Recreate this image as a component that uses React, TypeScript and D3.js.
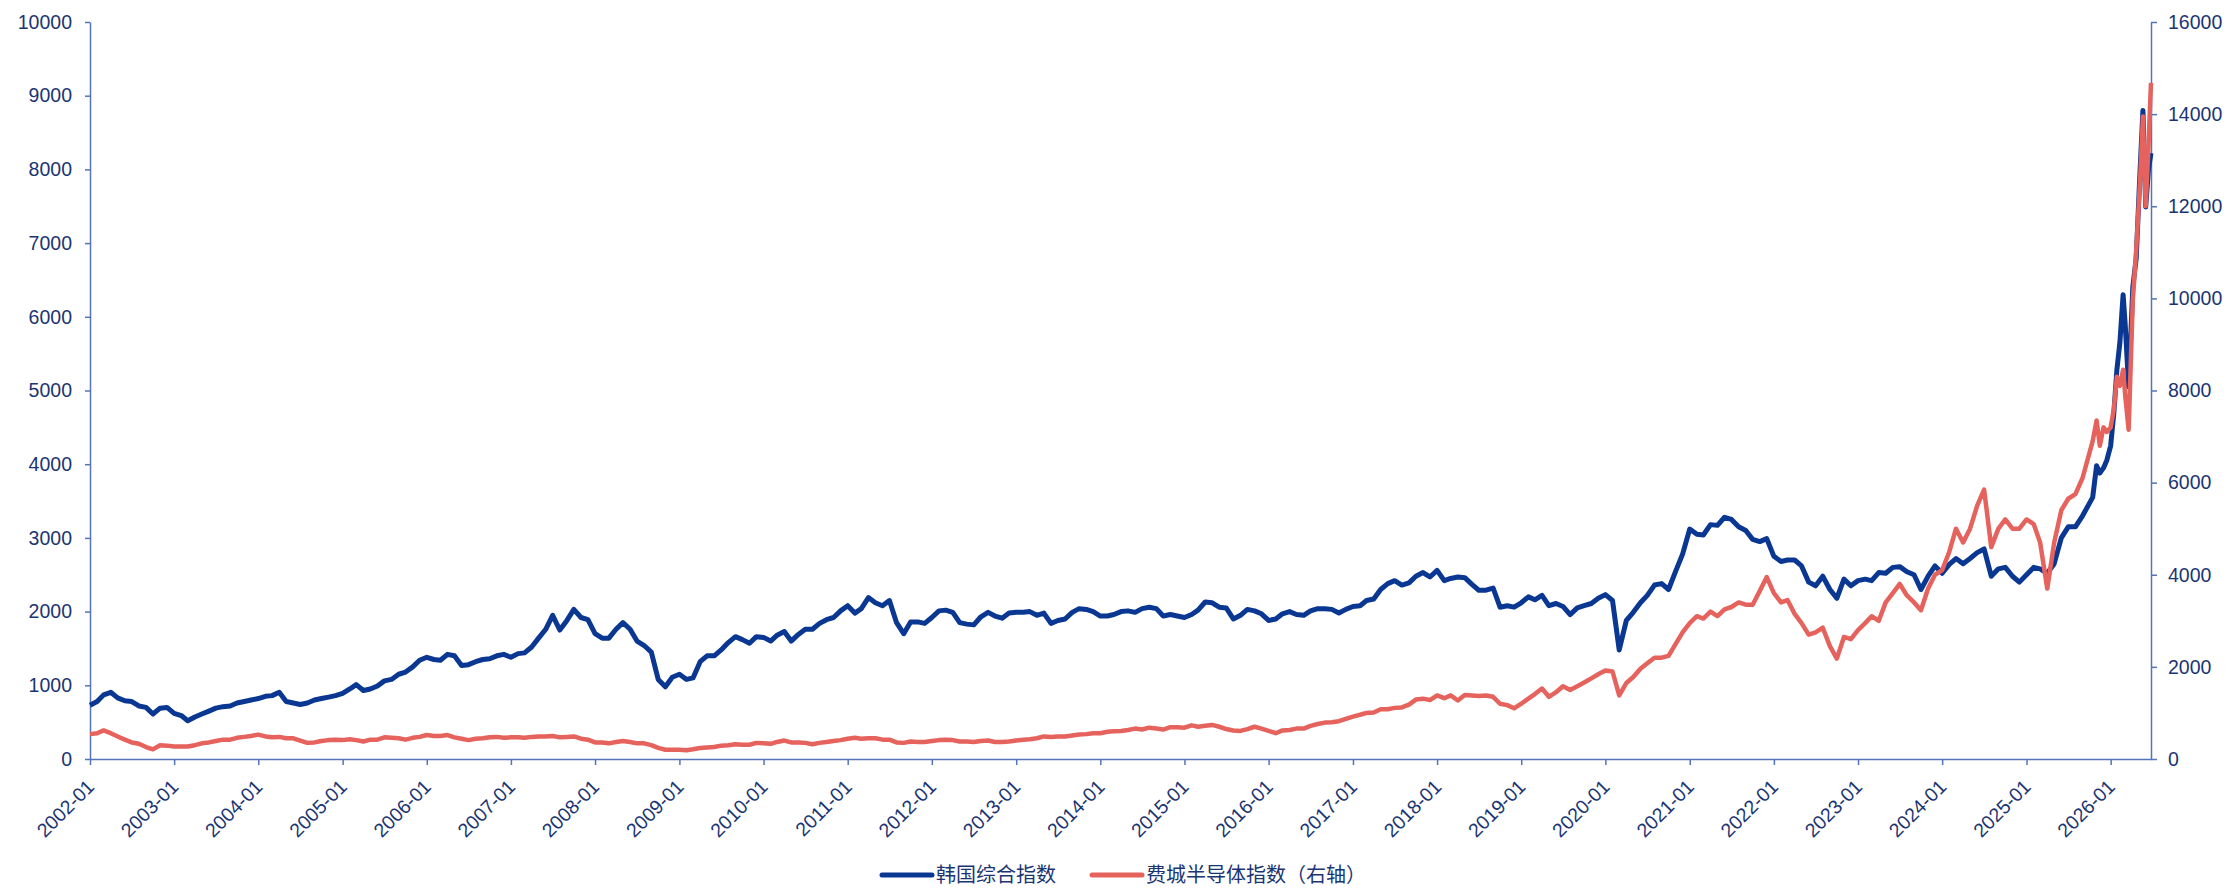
import React, { useEffect, useRef } from 'react';
import * as d3 from 'd3';

const WIDTH = 2230;
const HEIGHT = 892;

// monthly levels from 2002-01 to 2025-09, one row per year
const kospiMonthly = [
  730, 780, 870, 905, 830, 790, 780, 720, 700, 610, 690, 700, // 2002
  620, 590, 520, 570, 610, 650, 690, 710, 720, 760, 780, 800, // 2003
  820, 850, 860, 905, 780, 760, 740, 760, 800, 820, 840, 860, // 2004
  890, 950, 1010, 930, 950, 990, 1060, 1080, 1150, 1180, 1250, 1340, // 2005
  1380, 1350, 1340, 1420, 1400, 1270, 1280, 1320, 1350, 1360, 1400, 1420, // 2006
  1380, 1430, 1440, 1520, 1640, 1760, 1950, 1750, 1880, 2030, 1920, 1890, // 2007
  1700, 1640, 1640, 1760, 1850, 1760, 1600, 1540, 1450, 1080, 980, 1110, // 2008
  1150, 1080, 1100, 1320, 1400, 1400, 1480, 1580, 1660, 1620, 1570, 1660, // 2009
  1650, 1600, 1680, 1730, 1600, 1690, 1760, 1760, 1840, 1890, 1920, 2010, // 2010
  2080, 1980, 2040, 2190, 2120, 2080, 2150, 1850, 1700, 1860, 1860, 1840, // 2011
  1920, 2010, 2020, 1990, 1850, 1830, 1820, 1930, 1990, 1940, 1910, 1980, // 2012
  1990, 1990, 2000, 1950, 1980, 1840, 1880, 1900, 1990, 2040, 2030, 2000, // 2013
  1940, 1940, 1960, 2000, 2010, 1990, 2040, 2060, 2040, 1940, 1960, 1940, // 2014
  1920, 1960, 2020, 2130, 2120, 2060, 2050, 1900, 1950, 2030, 2010, 1970, // 2015
  1880, 1900, 1970, 2000, 1960, 1950, 2010, 2040, 2040, 2030, 1980, 2030, // 2016
  2070, 2080, 2150, 2170, 2300, 2380, 2420, 2360, 2390, 2480, 2530, 2470, // 2017
  2560, 2420, 2450, 2470, 2460, 2370, 2290, 2290, 2320, 2060, 2080, 2060, // 2018
  2120, 2200, 2160, 2220, 2080, 2110, 2070, 1960, 2050, 2080, 2110, 2180, // 2019
  2230, 2150, 1480, 1880, 1990, 2120, 2220, 2360, 2380, 2300, 2550, 2780, // 2020
  3120, 3050, 3040, 3180, 3170, 3280, 3250, 3150, 3100, 2980, 2950, 2990, // 2021
  2750, 2680, 2700, 2700, 2620, 2400, 2350, 2480, 2300, 2180, 2440, 2350, // 2022
  2420, 2440, 2420, 2530, 2520, 2600, 2610, 2540, 2500, 2300, 2480, 2620, // 2023
  2520, 2640, 2720, 2650, 2720, 2800, 2850, 2480, 2580, 2600, 2480, 2400, // 2024
  2500, 2600, 2580, 2520, 2650, 3000, 3150, 3150, 3300 // 2025
];

const soxMonthly = [
  540, 560, 620, 560, 490, 420, 360, 330, 260, 210, 300, 290, // 2002
  270, 270, 270, 300, 340, 360, 390, 420, 420, 460, 480, 500, // 2003
  530, 490, 470, 480, 450, 450, 400, 350, 360, 390, 410, 420, // 2004
  410, 430, 410, 380, 420, 420, 470, 460, 450, 420, 460, 480, // 2005
  520, 500, 500, 520, 470, 440, 410, 440, 450, 470, 480, 460, // 2006
  470, 470, 460, 480, 490, 490, 500, 470, 480, 490, 440, 420, // 2007
  360, 360, 340, 370, 390, 370, 340, 340, 300, 240, 200, 200, // 2008
  200, 190, 210, 240, 250, 260, 290, 300, 320, 310, 310, 350, // 2009
  340, 330, 370, 400, 360, 360, 350, 320, 350, 370, 390, 410, // 2010
  440, 460, 440, 450, 450, 420, 420, 360, 350, 380, 370, 370, // 2011
  390, 410, 420, 410, 380, 380, 370, 390, 400, 370, 370, 380, // 2012
  400, 420, 430, 450, 490, 480, 490, 490, 510, 530, 540, 560, // 2013
  560, 590, 600, 610, 630, 660, 640, 680, 660, 640, 690, 690, // 2014
  680, 730, 700, 720, 740, 700, 650, 620, 610, 650, 700, 660, // 2015
  610, 560, 620, 630, 660, 660, 720, 760, 790, 800, 820, 870, // 2016
  920, 960, 1000, 1010, 1080, 1080, 1110, 1120, 1180, 1290, 1310, 1280, // 2017
  1380, 1320, 1380, 1270, 1390, 1380, 1370, 1380, 1350, 1200, 1170, 1100, // 2018
  1200, 1310, 1410, 1530, 1350, 1450, 1580, 1500, 1580, 1660, 1750, 1840, // 2019
  1920, 1900, 1380, 1650, 1780, 1960, 2080, 2200, 2200, 2240, 2500, 2750, // 2020
  2950, 3100, 3050, 3200, 3100, 3250, 3300, 3400, 3350, 3350, 3650, 3950, // 2021
  3600, 3400, 3450, 3150, 2950, 2700, 2750, 2850, 2450, 2180, 2650, 2600, // 2022
  2800, 2950, 3100, 3000, 3400, 3600, 3800, 3550, 3400, 3230, 3700, 4000, // 2023
  4100, 4500, 5000, 4700, 5000, 5500, 5850, 4600, 5000, 5200, 5000, 5000, // 2024
  5200, 5100, 4700, 3700, 4700, 5400, 5650, 5750, 6100 // 2025
];

// last stretch, read on a finer grid
const tailDates = [
  '2025-10-15', '2025-11-01', '2025-11-15', '2025-12-01', '2025-12-15',
  '2026-01-01', '2026-01-15', '2026-01-28', '2026-02-10', '2026-02-24',
  '2026-03-05', '2026-03-20', '2026-04-07', '2026-04-22', '2026-05-08',
  '2026-05-21', '2026-06-02', '2026-06-14', '2026-06-25'
];
const kospiTail = [
  3550, 3980, 3880, 3950, 4050,
  4250, 4700, 5280, 5650, 6300,
  5900, 5050, 6400, 6800, 7950,
  8800, 7490, 8000, 8220
];
const soxTail = [
  6900, 7350, 6800, 7200, 7100,
  7200, 7600, 8300, 8100, 8450,
  7900, 7150, 9960, 11060, 12500,
  13950, 12000, 13300, 14680
];

const leftTicks = [0, 1000, 2000, 3000, 4000, 5000, 6000, 7000, 8000, 9000, 10000];
const rightTicks = [0, 2000, 4000, 6000, 8000, 10000, 12000, 14000, 16000];
const seriesNames = ['韩国综合指数', '费城半导体指数（右轴）'];

const BLUE = '#0A3791';
const RED = '#E5625D';
const AXIS = '#5375B8';
const LABEL = '#1B3573';
const FONT = '"Liberation Sans", Arial, Helvetica, sans-serif';

const App = () => {
  const rootRef = useRef<SVGSVGElement>(null);

  useEffect(() => {
    document.body.style.margin = '0';
    const svg = d3.select(rootRef.current);
    svg.selectAll('*').remove();

    const left = 90;
    const right = 2151;
    const top = 22;
    const bottom = 759;

    const parse = d3.timeParse('%Y-%m-%d');
    const months = d3.timeMonth.range(new Date(2002, 0, 1), new Date(2025, 9, 1));
    const dates = months.concat(tailDates.map((s) => parse(s) as Date));
    const kospi = kospiMonthly.concat(kospiTail);
    const sox = soxMonthly.concat(soxTail);

    const x = d3
      .scaleTime()
      .domain([new Date(2002, 0, 1), new Date(2026, 5, 25)])
      .range([left, right]);
    const yLeft = d3.scaleLinear().domain([0, 10000]).range([bottom, top]);
    const yRight = d3.scaleLinear().domain([0, 16000]).range([bottom, top]);

    const styleAxis = (g: any) => {
      g.select('.domain').attr('stroke', AXIS).attr('stroke-width', 1.5);
      g.selectAll('.tick line').attr('stroke', AXIS).attr('stroke-width', 1.5);
      g.selectAll('.tick text')
        .attr('fill', LABEL)
        .attr('font-family', FONT)
        .attr('font-size', 19.5);
    };

    // left axis
    svg
      .append('g')
      .attr('transform', `translate(${left},0)`)
      .call(d3.axisLeft(yLeft).tickValues(leftTicks).tickSize(5).tickSizeOuter(0).tickPadding(13).tickFormat(d3.format('d')))
      .call(styleAxis);

    // right axis
    svg
      .append('g')
      .attr('transform', `translate(${right},0)`)
      .call(d3.axisRight(yRight).tickValues(rightTicks).tickSize(6).tickSizeOuter(0).tickPadding(11).tickFormat(d3.format('d')))
      .call(styleAxis);

    // bottom axis
    const yearTicks = d3.timeYear.range(new Date(2002, 0, 1), new Date(2026, 1, 1));
    const xAxis = svg
      .append('g')
      .attr('transform', `translate(0,${bottom})`)
      .call(d3.axisBottom(x).tickValues(yearTicks).tickSize(6).tickSizeOuter(0).tickFormat(d3.timeFormat('%Y-%m') as any))
      .call(styleAxis);
    xAxis
      .selectAll('.tick text')
      .attr('x', 0)
      .attr('y', 0)
      .attr('dy', 0)
      .attr('text-anchor', 'end')
      .attr('transform', 'translate(5,29) rotate(-45)');

    const lineLeft = d3
      .line<number>()
      .x((_, i) => x(dates[i]))
      .y((d) => yLeft(d));
    const lineRight = d3
      .line<number>()
      .x((_, i) => x(dates[i]))
      .y((d) => yRight(d));

    svg
      .append('path')
      .attr('d', lineLeft(kospi))
      .attr('fill', 'none')
      .attr('stroke', BLUE)
      .attr('stroke-width', 5)
      .attr('stroke-linejoin', 'round');

    svg
      .append('path')
      .attr('d', lineRight(sox))
      .attr('fill', 'none')
      .attr('stroke', RED)
      .attr('stroke-width', 4.5)
      .attr('stroke-linejoin', 'round');

    // legend
    const legend = svg.append('g').attr('transform', 'translate(0,875)');
    const items = [
      { name: seriesNames[0], color: BLUE, x0: 882 },
      { name: seriesNames[1], color: RED, x0: 1092 }
    ];
    items.forEach((it) => {
      legend
        .append('line')
        .attr('x1', it.x0)
        .attr('x2', it.x0 + 50)
        .attr('y1', 0)
        .attr('y2', 0)
        .attr('stroke', it.color)
        .attr('stroke-width', 5)
        .attr('stroke-linecap', 'round');
      legend
        .append('text')
        .attr('x', it.x0 + 54)
        .attr('y', 0)
        .attr('dy', '0.35em')
        .attr('fill', LABEL)
        .attr('font-family', '"Noto Sans CJK SC", sans-serif')
        .attr('font-size', 20)
        .text(it.name);
    });
  }, []);

  return <svg ref={rootRef} width={WIDTH} height={HEIGHT} style={{ display: 'block', background: '#fff' }}></svg>;
};

export default App;
